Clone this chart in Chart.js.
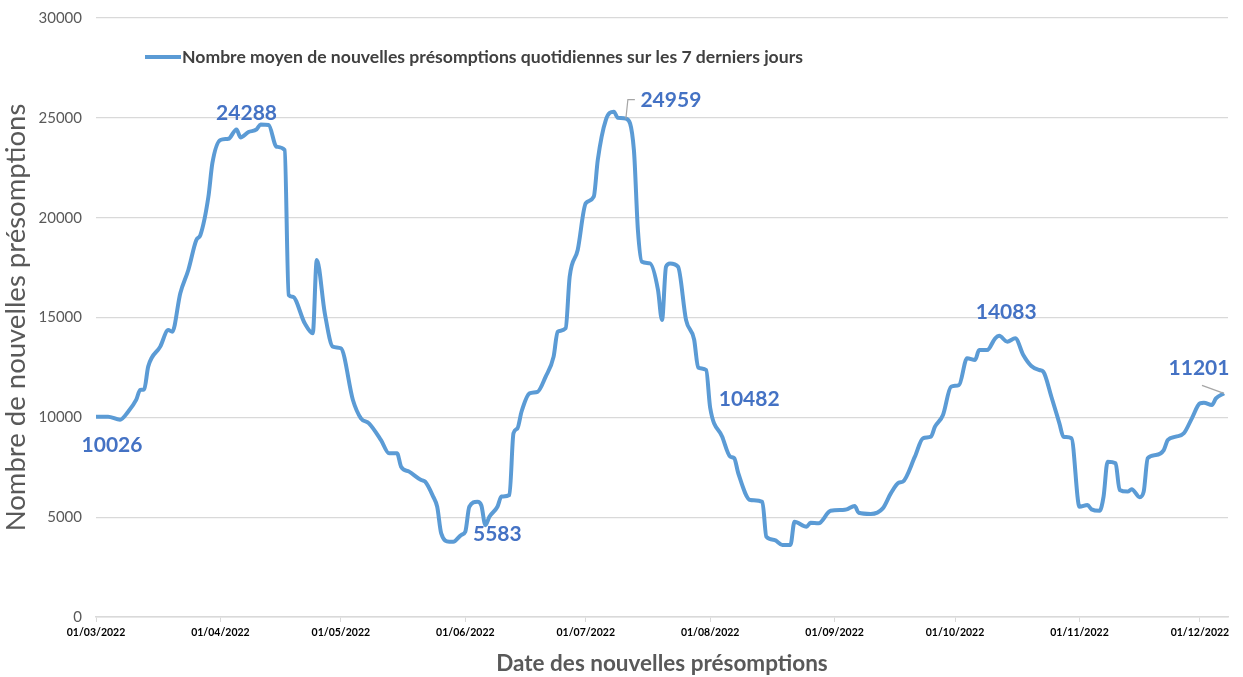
<!DOCTYPE html>
<html lang="fr">
<head>
<meta charset="UTF-8">
<title>Présomptions</title>
<script src="https://cdn.jsdelivr.net/npm/chart.js@4.4.0/dist/chart.umd.min.js"></script>
<style>
  body { margin: 0; background: #fff; }
  .chart { width: 1243px; height: 677px; }
</style>
</head>
<body>
<div class="chart"><canvas id="myChart"></canvas></div>
<script>
// days since 01/03/2022
const days = [0, 3, 6, 8, 10, 11, 12, 13, 16, 18, 19, 21, 23, 25, 26, 28, 29, 31, 33, 35, 36, 38, 40, 41, 43, 45, 47,
  48, 49, 52, 54, 55, 57, 59, 61, 64, 66, 68, 71, 73, 75, 76, 78, 81, 82, 84, 85, 86, 88, 89, 91, 92, 93, 95, 96,
  97, 98, 100, 101, 103, 104, 105, 106, 108, 110, 112, 114, 115, 117, 118, 120, 122, 124, 125, 127, 129, 130, 132,
  134, 135, 136, 138, 140, 141, 142, 143, 145, 147, 149, 150, 152, 153, 156, 158, 159, 160, 163, 166, 167, 169, 171,
  173, 174, 177, 178, 180, 183, 186, 187, 189, 190, 193, 196, 198, 200, 201, 204, 206, 208, 209, 211, 213, 215, 217,
  219, 220, 222, 224, 225, 227, 229, 231, 233, 235, 236, 238, 240, 241, 243, 245, 247, 248, 250, 251, 252, 254, 255,
  257, 258, 260, 261, 262, 264, 266, 267, 269, 271, 273, 275, 276, 278, 279, 281];
const moyenne = [10026, 10030, 9880, 10280, 10870, 11370, 11400, 12540, 13540, 14370, 14290, 16220, 17380, 18880, 19130, 21050, 22740, 23890, 23950, 24420, 24020, 24288, 24420, 24670, 24640, 23550, 23390,
  16130, 16040, 14710, 14210, 17880, 15210, 13540, 13460, 10870, 9950, 9700, 8860, 8200, 8200, 7530, 7280, 6860, 6780, 6030, 5520, 4190, 3770, 3770, 4110, 4270, 5520, 5770, 5583,
  4600, 5020, 5520, 6030, 6110, 9200, 9450, 10280, 11200, 11280, 12030, 13040, 14290, 14460, 17040, 18380, 20720, 21050, 22890, 24890, 25310, 25000, 24959,
  23390, 19380, 17790, 17710, 16380, 14870, 17540, 17710, 17540, 14870, 13900, 12500, 12370, 10482, 9030, 8030, 7950, 7200, 5860, 5770, 4020, 3860, 3610,
  3610, 4770, 4520, 4720, 4690, 5320, 5360, 5390, 5560, 5220, 5160, 5440, 6190, 6730, 6780, 8030, 8950, 9030, 9530, 10120, 11530, 11620, 12960,
  12870, 13370, 13370, 13960, 14083, 13790, 13960, 13120, 12570, 12370, 12280, 11030, 9700, 9030, 8950, 5520, 5610, 5390, 5320, 6030, 7780, 7700, 6360,
  6280, 6400, 6000, 6280, 7950, 8110, 8360, 8860, 9030, 9200, 9950, 10700, 10730, 10620, 10950, 11201];

const tickDays = [0, 31, 61, 92, 122, 153, 184, 214, 245, 275];
const tickLabels = ['01/03/2022', '01/04/2022', '01/05/2022', '01/06/2022', '01/07/2022', '01/08/2022', '01/09/2022', '01/10/2022', '01/11/2022', '01/12/2022'];

// points carrying a value label
const labelDays = [0, 38, 96, 132, 153, 225, 281];

const seriesName = 'Nombre moyen de nouvelles présomptions quotidiennes sur les 7 derniers jours';
const lineColor = '#5b9bd5';
const labelColor = '#4472c4';
const FONT = 'Lato, "Open Sans", sans-serif';

// label offsets from the point (px) and optional leader line
const labelStyle = {
  0: { dx: 16, dy: 28 },
  38: { dx: -2, dy: -19 },
  96: { dx: 16, dy: 29 },
  132: { dx: 45, dy: -18, leader: [[0, 0], [2, -19], [9, -19]] },
  153: { dx: 39, dy: -8 },
  225: { dx: 7, dy: -24 },
  281: { dx: -25, dy: -25, leader: [[0, 0], [-22, -8]] }
};

const extras = {
  id: 'extras',
  afterDatasetsDraw(chart) {
    const ctx = chart.ctx;
    const xs = chart.scales.x, ys = chart.scales.y;
    ctx.save();
    labelDays.forEach(function (d) {
      const i = days.indexOf(d);
      const px = xs.getPixelForValue(d), py = ys.getPixelForValue(moyenne[i]);
      const st = labelStyle[d];
      if (st.leader) {
        ctx.strokeStyle = '#a6a6a6';
        ctx.lineWidth = 1.2;
        ctx.beginPath();
        st.leader.forEach(function (p, k) {
          if (k === 0) ctx.moveTo(px + p[0], py + p[1]); else ctx.lineTo(px + p[0], py + p[1]);
        });
        ctx.stroke();
      }
      ctx.fillStyle = labelColor;
      ctx.font = 'bold 21px ' + FONT;
      ctx.textAlign = 'center';
      ctx.textBaseline = 'middle';
      ctx.fillText(String(moyenne[i]), px + st.dx, py + st.dy);
    });
    // legend
    ctx.strokeStyle = lineColor;
    ctx.lineWidth = 4;
    ctx.beginPath();
    ctx.moveTo(145, 57);
    ctx.lineTo(181, 57);
    ctx.stroke();
    ctx.fillStyle = '#404040';
    ctx.font = 'bold 17.6px ' + FONT;
    ctx.textAlign = 'left';
    ctx.textBaseline = 'middle';
    ctx.fillText(seriesName, 182, 57);
    ctx.restore();
  }
};

const ctx = document.getElementById('myChart').getContext('2d');
const chart = new Chart(ctx, {
  type: 'line',
  data: {
    datasets: [{
      label: seriesName,
      data: days.map(function (d, i) { return { x: d, y: moyenne[i] }; }),
      borderColor: lineColor,
      borderWidth: 4,
      pointRadius: 0,
      cubicInterpolationMode: 'monotone',
      fill: false
    }]
  },
  options: {
    responsive: true,
    maintainAspectRatio: false,
    animation: false,
    layout: { padding: { top: 18, right: 15, left: 0, bottom: 0 } },
    plugins: { legend: { display: false }, tooltip: { enabled: false } },
    scales: {
      x: {
        type: 'linear',
        min: 0,
        max: 282,
        afterBuildTicks: function (scale) { scale.ticks = tickDays.map(function (v) { return { value: v }; }); },
        afterFit: function (scale) { scale.height = 60; },
        ticks: {
          autoSkip: false,
          maxRotation: 0,
          padding: 4,
          color: '#000',
          font: { family: FONT, size: 10.5, weight: 'bold' },
          callback: function (v) { return tickLabels[tickDays.indexOf(v)]; }
        },
        grid: { drawOnChartArea: false, drawTicks: true, tickLength: 5, color: '#d9d9d9' },
        border: { color: '#d9d9d9', width: 1.5 },
        title: {
          display: true,
          text: 'Date des nouvelles présomptions',
          color: '#595959',
          font: { family: FONT, size: 22.5, weight: 'bold' },
          padding: { top: 0, bottom: 0 }
        }
      },
      y: {
        min: 0,
        max: 30000,
        afterFit: function (scale) { scale.width = 96; scale.paddingTop = 0; scale.paddingBottom = 0; },
        ticks: {
          stepSize: 5000,
          padding: 14,
          color: '#595959',
          font: { family: FONT, size: 15 },
          callback: function (v) { return String(v); }
        },
        grid: { color: '#d9d9d9', lineWidth: 1.3, drawTicks: false },
        border: { display: false },
        title: {
          display: true,
          text: 'Nombre de nouvelles présomptions',
          color: '#595959',
          font: { family: FONT, size: 27.5 },
          padding: { top: 0, bottom: 0 }
        }
      }
    }
  },
  plugins: [extras]
});
</script>
</body>
</html>
